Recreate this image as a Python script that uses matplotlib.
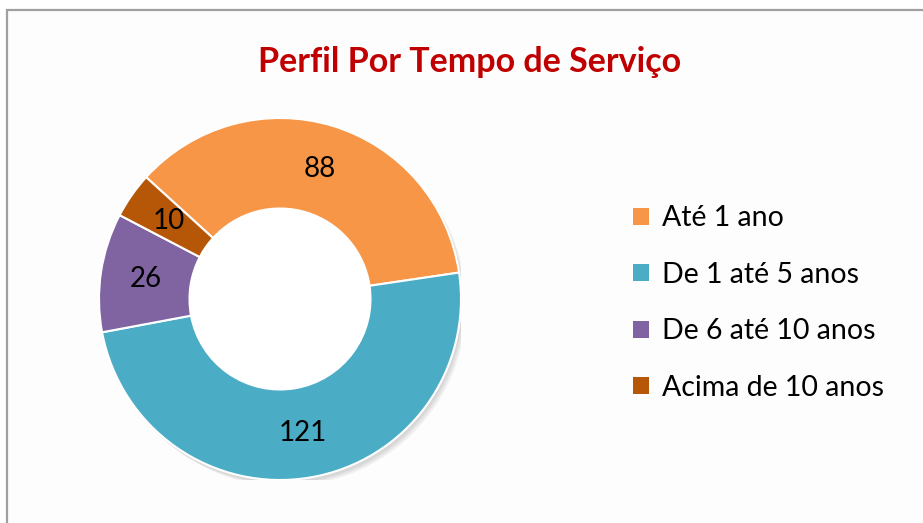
import numpy as np
import matplotlib.pyplot as plt
from matplotlib.patches import Rectangle, Circle

# data
categories = ["Até 1 ano", "De 1 até 5 anos", "De 6 até 10 anos", "Acima de 10 anos"]
values = [88, 121, 26, 10]
colors = ["#F79646", "#4BACC6", "#8064A2", "#B65708"]

plt.rcParams['font.family'] = ['Lato', 'DejaVu Sans']

W, H = 923, 523
fig = plt.figure(figsize=(W / 100, H / 100), dpi=100)
fig.patch.set_facecolor("white")

# chart frame (cut off at right and bottom)
fig.patches.append(Rectangle((7 / W, -0.1), 1.2, (H - 10) / H + 0.1,
                             transform=fig.transFigure, fill=True,
                             facecolor="#FDFDFD", edgecolor="#A0A0A0",
                             linewidth=1.6, zorder=-5))

# donut: centre (280, 299) px, outer radius 181 px
cx, cy, R = 280, 299, 181
ax = fig.add_axes([(cx - R) / W, (H - cy - R) / H, 2 * R / W, 2 * R / H])
ax.set_zorder(2)

# soft shadow
for k in range(3):
    ax.add_patch(Circle((0.012 + 0.008 * k, -0.018 - 0.008 * k), 1.0,
                        facecolor="black", alpha=0.05, edgecolor="none", zorder=0))

wedges, _ = ax.pie(values, colors=colors, startangle=137.7, counterclock=False,
                   radius=1.0,
                   wedgeprops=dict(width=0.5, edgecolor="white", linewidth=1.5))
ax.add_patch(Circle((0, 0), 0.5, facecolor="white", edgecolor="none", zorder=0.5))
for w, v in zip(wedges, values):
    ang = np.deg2rad((w.theta1 + w.theta2) / 2)
    ax.text(0.75 * np.cos(ang), 0.75 * np.sin(ang), str(v),
            ha="center", va="center", fontsize=20, color="black")
ax.set_xlim(-1, 1)
ax.set_ylim(-1, 1)
ax.set_aspect("equal")
ax.axis("off")

fig.text(470 / W, 1 - 62 / H, "Perfil Por Tempo de Serviço", ha="center", va="center",
         fontsize=24.5, fontweight="bold", color="#C00000")

leg = fig.legend(wedges, categories, loc="upper left",
                 bbox_to_anchor=(619 / W, 1 - 191 / H), frameon=False,
                 fontsize=20.5, handlelength=0.55, handleheight=0.55,
                 handletextpad=0.45, labelspacing=1.07, borderpad=0)
for h in leg.legend_handles:
    h.set_linewidth(0)

fig.savefig("out.png", dpi=100)
